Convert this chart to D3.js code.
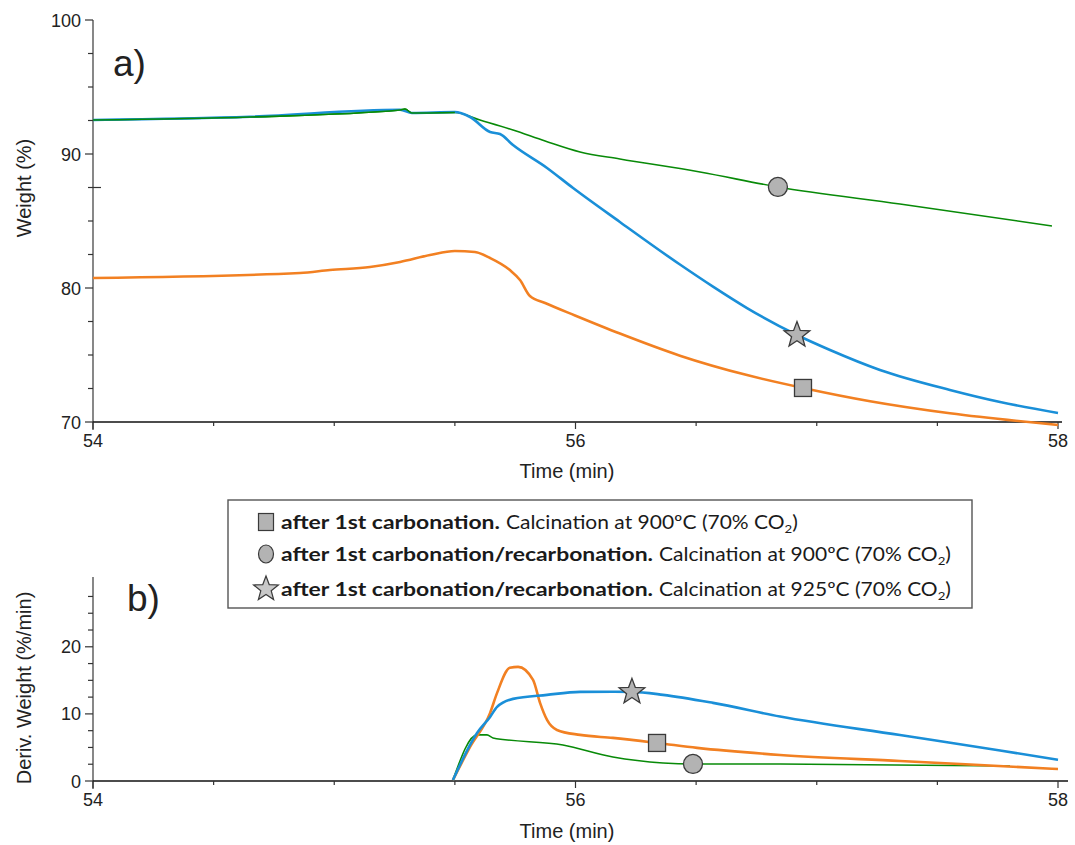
<!DOCTYPE html>
<html>
<head>
<meta charset="utf-8">
<script src="https://cdn.jsdelivr.net/npm/d3@7"></script>
<style>
  body { margin: 0; background: #fff; }
  svg text { font-family: "Liberation Sans", Arial, sans-serif; }
  .legend text { font-family: Lato, "Open Sans", sans-serif; }
</style>
</head>
<body>
<div id="graph"></div>
<script>
// ---- data ----
// panel a: weight (%) vs time (min)
var greenA = [[54.00,92.54],[54.651,92.76],[55.273,93.28],[55.293,93.36],[55.322,93.06],[55.50,93.10],
  [55.604,92.54],[55.741,91.79],[55.874,90.97],[56.019,90.15],[56.184,89.63],[56.516,88.66],
  [56.839,87.54],[57.345,86.27],[57.975,84.63]];
var blueA = [[54.00,92.54],[54.651,92.78],[55.273,93.30],[55.322,93.06],[55.50,93.13],[55.563,92.76],
  [55.646,91.64],[55.687,91.49],[55.741,90.67],[55.882,88.96],[55.990,87.46],[56.184,84.93],
  [56.433,81.75],[56.570,80.10],[56.711,78.50],[56.918,76.49],[57.055,75.37],[57.262,73.88],
  [57.552,72.39],[57.760,71.49],[58.00,70.67]];
var orangeA = [[54.00,80.75],[54.858,81.12],[54.982,81.34],[55.148,81.57],[55.273,81.94],[55.397,82.46],
  [55.50,82.76],[55.583,82.69],[55.646,82.24],[55.728,81.34],[55.770,80.60],[55.811,79.40],
  [55.874,78.88],[55.998,77.95],[56.184,76.60],[56.433,74.95],[56.711,73.50],[56.943,72.54],
  [57.221,71.55],[57.552,70.65],[58.00,69.78]];

// panel b: derivative weight (%/min) vs time (min)
var orangeB = [[55.492,0.15],[55.563,5.07],[55.646,10.15],[55.675,13.13],[55.728,16.87],[55.762,17.01],
  [55.824,15.07],[55.853,11.64],[55.882,9.10],[55.923,7.61],[56.019,6.87],[56.155,6.42],
  [56.338,5.67],[56.504,4.93],[56.848,3.88],[57.345,2.99],[58.00,1.79]];
var blueB = [[55.492,0.15],[55.592,7.16],[55.646,9.55],[55.675,11.04],[55.741,12.24],[55.882,12.84],
  [56.019,13.28],[56.155,13.30],[56.234,13.28],[56.363,12.84],[56.570,11.64],[56.848,9.60],
  [57.345,6.85],[57.760,4.55],[58.00,3.15]];
var greenB = [[55.492,0.15],[55.592,6.87],[55.633,6.87],[55.658,6.42],[55.948,5.37],[56.155,3.58],
  [56.363,2.69],[56.487,2.54],[56.848,2.54],[57.801,2.24]];

// marker positions [time, value]
var markersA = { square: [56.943,72.54], circle: [56.839,87.54], star: [56.918,76.49] };
var markersB = { square: [56.338,5.67], circle: [56.487,2.54], star: [56.234,13.28] };

var xTicksMajor = [54, 56, 58];
var xTicksAll = [54, 54.5, 55, 55.5, 56, 56.5, 57, 57.5, 58];
var yTicksA = [70, 72.5, 75, 77.5, 80, 82.5, 85, 87.5, 90, 92.5, 95, 97.5, 100];
var yTicksB = [0, 2.5, 5, 7.5, 10, 12.5, 15, 17.5, 20, 22.5, 25, 27.5];

var legendItems = [
  { sym: "square", bold: "after 1st carbonation.", rest: "Calcination at 900ºC (70% CO" },
  { sym: "circle", bold: "after 1st carbonation/recarbonation.", rest: "Calcination at 900ºC (70% CO" },
  { sym: "star", bold: "after 1st carbonation/recarbonation.", rest: "Calcination at 925ºC (70% CO" }
];

var colors = { orange: "#f28022", blue: "#1a8fd8", green: "#088a08" };

// ---- layout ----
var width = 1075, height = 845;
var svg = d3.select("#graph").append("svg").attr("width", width).attr("height", height);

var x = d3.scaleLinear().domain([54, 58]).range([93, 1058]);
var yA = d3.scaleLinear().domain([70, 100]).range([422, 20]);
var yB = d3.scaleLinear().domain([0, 30.4]).range([781, 577]);

function drawPanel(y, yTicks, majors, xEnd, axisBottom) {
  var g = svg.append("g");
  g.append("line").attr("x1", 93).attr("x2", 93)
    .attr("y1", y.range()[1]).attr("y2", axisBottom + 8)
    .attr("stroke", "#6a6a6a").attr("stroke-width", 1.6);
  yTicks.forEach(function(t) {
    var major = majors.indexOf(t) >= 0;
    g.append("line").attr("x1", 93 - (major ? 8 : 5)).attr("x2", 93)
      .attr("y1", y(t)).attr("y2", y(t)).attr("stroke", "#333").attr("stroke-width", 1.2);
    if (major) {
      g.append("text").attr("x", 81).attr("y", y(t) + 6.5).attr("text-anchor", "end")
        .attr("font-size", 18).attr("fill", "#222").text(t);
    }
  });
  g.append("line").attr("x1", 93).attr("x2", xEnd).attr("y1", axisBottom).attr("y2", axisBottom)
    .attr("stroke", "#111").attr("stroke-width", 1.6);
  xTicksAll.forEach(function(t) {
    var major = xTicksMajor.indexOf(t) >= 0;
    g.append("line").attr("x1", x(t)).attr("x2", x(t))
      .attr("y1", axisBottom).attr("y2", axisBottom + (major ? 7 : 4))
      .attr("stroke", "#333").attr("stroke-width", 1.2);
    if (major) {
      g.append("text").attr("x", x(t)).attr("y", axisBottom + 25).attr("text-anchor", "middle")
        .attr("font-size", 18).attr("fill", "#222").text(t);
    }
  });
  return g;
}

drawPanel(yA, yTicksA, [70, 80, 90, 100], 1062, 422);
drawPanel(yB, yTicksB, [0, 10, 20], 1068, 781);
// small stray hook on the 87.5 tick
svg.append("line").attr("x1", 93).attr("x2", 101).attr("y1", yA(87.5)).attr("y2", yA(87.5))
  .attr("stroke", "#333").attr("stroke-width", 1.2);

// axis titles
svg.append("text").attr("x", 567).attr("y", 478).attr("text-anchor", "middle")
  .attr("font-size", 20).attr("fill", "#222").text("Time (min)");
svg.append("text").attr("x", 567).attr("y", 838).attr("text-anchor", "middle")
  .attr("font-size", 20).attr("fill", "#222").text("Time (min)");
svg.append("text").attr("transform", "translate(31,188) rotate(-90)").attr("text-anchor", "middle")
  .attr("font-size", 20).attr("fill", "#222").text("Weight (%)");
svg.append("text").attr("transform", "translate(31,688) rotate(-90)").attr("text-anchor", "middle")
  .attr("font-size", 20).attr("fill", "#222").text("Deriv. Weight (%/min)");

// panel letters
svg.append("text").attr("x", 113).attr("y", 76).attr("font-size", 37).attr("fill", "#222").text("a)");
svg.append("text").attr("x", 127).attr("y", 611).attr("font-size", 37).attr("fill", "#222").text("b)");

// curves
function curve(data, y, color, w) {
  var line = d3.line().x(function(d) { return x(d[0]); }).y(function(d) { return y(d[1]); })
    .curve(d3.curveMonotoneX);
  svg.append("path").datum(data).attr("d", line).attr("fill", "none")
    .attr("stroke", color).attr("stroke-width", w).attr("stroke-linejoin", "round");
}
curve(greenA, yA, colors.green, 1.6);
curve(orangeA, yA, colors.orange, 2.6);
curve(blueA, yA, colors.blue, 2.6);
curve(greenA.slice(0, 6), yA, colors.green, 1.6);

curve(greenB, yB, colors.green, 1.6);
curve(orangeB, yB, colors.orange, 2.6);
curve(blueB, yB, colors.blue, 2.6);

// markers
function starPath(r) {
  var pts = [];
  for (var i = 0; i < 10; i++) {
    var a = -Math.PI / 2 + i * Math.PI / 5;
    var rr = i % 2 === 0 ? r : r * 0.42;
    pts.push([rr * Math.cos(a), rr * Math.sin(a)]);
  }
  return "M" + pts.join("L") + "Z";
}
function marker(sym, cx, cy) {
  var g = svg.append("g").attr("transform", "translate(" + [cx, cy] + ")");
  var s;
  if (sym === "square") s = g.append("rect").attr("x", -8.5).attr("y", -8.5).attr("width", 17).attr("height", 17);
  else if (sym === "circle") s = g.append("circle").attr("r", 9.5);
  else s = g.append("path").attr("d", starPath(13.5));
  s.attr("fill", "#b3b3b3").attr("stroke", "#3a3a3a").attr("stroke-width", 1.3);
}
[markersA, markersB].forEach(function(m, i) {
  var y = i === 0 ? yA : yB;
  Object.keys(m).forEach(function(k) { marker(k, x(m[k][0]), y(m[k][1])); });
});

// legend: fonts stretched by one common factor so the long rows match the box
var lg = svg.append("g").attr("class", "legend");
lg.append("rect").attr("x", 228).attr("y", 500).attr("width", 744).attr("height", 108)
  .attr("fill", "#fff").attr("stroke", "#555").attr("stroke-width", 1.4);
var rowY = [522, 554, 589];
var boldTexts = [], restTexts = [];
legendItems.forEach(function(it, i) {
  var gy = rowY[i];
  var sg = lg.append("g").attr("transform", "translate(" + [266, gy] + ")");
  var s;
  if (it.sym === "square") s = sg.append("rect").attr("x", -7.5).attr("y", -8.5).attr("width", 15).attr("height", 17);
  else if (it.sym === "circle") s = sg.append("ellipse").attr("rx", 7.5).attr("ry", 9);
  else s = sg.append("path").attr("d", starPath(13));
  s.attr("fill", i === 2 ? "#c8c8c8" : "#b3b3b3").attr("stroke", "#3a3a3a").attr("stroke-width", 1.2);

  boldTexts.push(lg.append("text").attr("x", 281).attr("y", gy + 7).attr("font-size", 19)
    .attr("font-weight", "bold").attr("fill", "#1a1a1a").text(it.bold));
  var t = lg.append("text").attr("y", gy + 7).attr("font-size", 19).attr("fill", "#1a1a1a");
  t.append("tspan").text(it.rest);
  t.append("tspan").attr("font-size", 12).attr("dy", 4).text("2");
  t.append("tspan").attr("dy", -4).text(")");
  restTexts.push(t);
});
var kBold = 372 / boldTexts[1].node().getComputedTextLength();
var kRest = 292 / restTexts[1].node().getComputedTextLength();
boldTexts.forEach(function(b, i) {
  var bl = b.node().getComputedTextLength() * kBold;
  b.attr("textLength", bl).attr("lengthAdjust", "spacingAndGlyphs");
  var r = restTexts[i];
  r.attr("x", 281 + bl + 6)
    .attr("textLength", r.node().getComputedTextLength() * kRest).attr("lengthAdjust", "spacingAndGlyphs");
});
</script>
</body>
</html>
